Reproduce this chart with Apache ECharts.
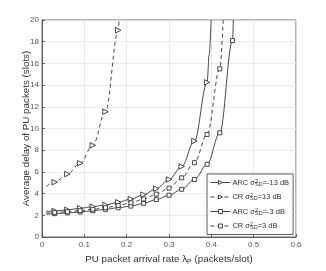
<!DOCTYPE html>
<html><head><meta charset="utf-8">
<script src="https://cdn.jsdelivr.net/npm/echarts@6/dist/echarts.min.js"></script>
<style>html,body{margin:0;padding:0;background:#fff}#c{width:326px;height:271px}</style>
</head><body><div id="c"></div>
<script>
var xTicks = [0, 0.1, 0.2, 0.3, 0.4, 0.5, 0.6];
var yTicks = [0, 2, 4, 6, 8, 10, 12, 14, 16, 18, 20];

var arc13X = [0.01, 0.03, 0.06, 0.09, 0.12, 0.15, 0.18, 0.21, 0.24, 0.27, 0.30, 0.33, 0.36, 0.39, 0.395, 0.3995];
var arc13Y = [2.35, 2.4, 2.5, 2.65, 2.8, 2.95, 3.2, 3.5, 3.9, 4.45, 5.3, 6.5, 8.85, 14.25, 16.8, 20];

var cr13X = [0.01, 0.03, 0.06, 0.09, 0.12, 0.15, 0.18, 0.182];
var cr13Y = [4.65, 5.05, 5.8, 6.8, 8.45, 11.55, 19.05, 20];

var arc3X = [0.01, 0.03, 0.06, 0.09, 0.12, 0.15, 0.18, 0.21, 0.24, 0.27, 0.30, 0.33, 0.36, 0.39, 0.42, 0.45, 0.452];
var arc3Y = [2.1, 2.15, 2.22, 2.3, 2.42, 2.55, 2.7, 2.85, 3.1, 3.45, 3.85, 4.4, 5.3, 6.7, 9.6, 18.1, 20];

var cr3X = [0.01, 0.03, 0.06, 0.09, 0.12, 0.15, 0.18, 0.21, 0.24, 0.27, 0.30, 0.33, 0.36, 0.39, 0.42, 0.428];
var cr3Y = [2.2, 2.25, 2.33, 2.43, 2.55, 2.7, 2.9, 3.15, 3.5, 3.95, 4.5, 5.45, 6.85, 9.45, 15.5, 20];

var names = ['ARC13', 'CR13', 'ARC3', 'CR3'];
var labels = {
  ARC13: '{t|ARC σ}{sup|2}{sub|SD}{t|=-13 dB}',
  CR13: '{t|CR σ}{sup|2}{sub|SD}{t|=13 dB}',
  ARC3: '{t|ARC σ}{sup|2}{sub|SD}{t|=-3 dB}',
  CR3: '{t|CR σ}{sup|2}{sub|SD}{t|=3 dB}'
};

function isMarker(x) {
  var r = x / 0.03;
  return Math.abs(r - Math.round(r)) < 1e-6;
}
function build(xs, ys) {
  return xs.map(function (x, i) {
    var d = { value: [x, ys[i]] };
    if (!isMarker(x)) d.symbol = 'none';
    return d;
  });
}
var col = '#333';
var FF = 'Liberation Sans, Arial, sans-serif';
function mk(name, xs, ys, dashed, sym) {
  return {
    name: name, type: 'line', data: build(xs, ys),
    smooth: 0.35, smoothMonotone: 'x',
    symbol: sym === 'tri' ? 'triangle' : 'rect',
    symbolRotate: sym === 'tri' ? -90 : 0,
    symbolSize: sym === 'tri' ? 5.5 : 4,
    showAllSymbol: true,
    color: col,
    lineStyle: { color: col, width: 0.9, type: dashed ? [4, 3] : 'solid' },
    itemStyle: { color: '#fff', borderColor: col, borderWidth: 0.9 },
    emphasis: { disabled: true },
    clip: true
  };
}

var chart = echarts.init(document.getElementById('c'));
chart.setOption({
  animation: false,
  textStyle: { fontFamily: FF },
  grid: { left: 42, right: 30, top: 20, bottom: 30, show: true, borderColor: '#444', borderWidth: 0.8 },
  xAxis: {
    type: 'value', min: xTicks[0], max: xTicks[xTicks.length - 1], interval: 0.1,
    name: '{a|PU packet arrival rate λ}{s|P}{a| (packets/slot)}',
    nameLocation: 'middle', nameGap: 16, nameMoveOverlap: false,
    nameTextStyle: { verticalAlign: 'top', rich: {
      a: { fontSize: 9.8, color: '#333', fontFamily: FF },
      s: { fontSize: 7, color: '#333', verticalAlign: 'bottom', padding: [6, 0, 0, 0], fontFamily: FF }
    } },
    axisLine: { show: true, lineStyle: { color: '#444', width: 0.8 } },
    axisTick: { show: true, inside: true, length: 3, lineStyle: { color: '#444', width: 0.8 } },
    axisLabel: { fontSize: 8, color: '#555', margin: 4, formatter: function (v) { return String(v); } },
    splitLine: { show: true, lineStyle: { color: '#e6e6e6', width: 0.8 } }
  },
  yAxis: {
    type: 'value', min: yTicks[0], max: yTicks[yTicks.length - 1], interval: 2,
    name: 'Average delay of PU packets (slots)',
    nameLocation: 'middle', nameGap: 11, nameMoveOverlap: false,
    nameTextStyle: { fontSize: 9.8, color: '#333' },
    axisLine: { show: true, lineStyle: { color: '#444', width: 0.8 } },
    axisTick: { show: true, inside: true, length: 3, lineStyle: { color: '#444', width: 0.8 } },
    axisLabel: { fontSize: 8, color: '#555', margin: 3 },
    splitLine: { show: true, lineStyle: { color: '#e6e6e6', width: 0.8 } }
  },
  legend: {
    left: 207, top: 174, orient: 'vertical',
    data: names,
    backgroundColor: '#fff', borderColor: '#333', borderWidth: 0.8,
    padding: [4, 4, 4, 3], itemGap: 5.5, itemWidth: 20, itemHeight: 5,
    itemStyle: { color: '#fff', borderColor: col, borderWidth: 0.9 },
    lineStyle: { width: 0.9 },
    formatter: function (n) { return labels[n]; },
    textStyle: {
      color: '#333', padding: [0, 0, 0, -3],
      rich: {
        t: { fontSize: 7.5, color: '#333', height: 12, fontFamily: FF },
        sup: { fontSize: 5.5, color: '#333', width: 0, verticalAlign: 'top', height: 12, fontFamily: FF },
        sub: { fontSize: 5.5, color: '#333', verticalAlign: 'bottom', height: 12, padding: [3, 0, 0, 0], fontFamily: FF }
      }
    }
  },
  series: [
    mk('ARC13', arc13X, arc13Y, false, 'tri'),
    mk('CR13', cr13X, cr13Y, true, 'tri'),
    mk('ARC3', arc3X, arc3Y, false, 'sq'),
    mk('CR3', cr3X, cr3Y, true, 'sq')
  ]
});
</script></body></html>
